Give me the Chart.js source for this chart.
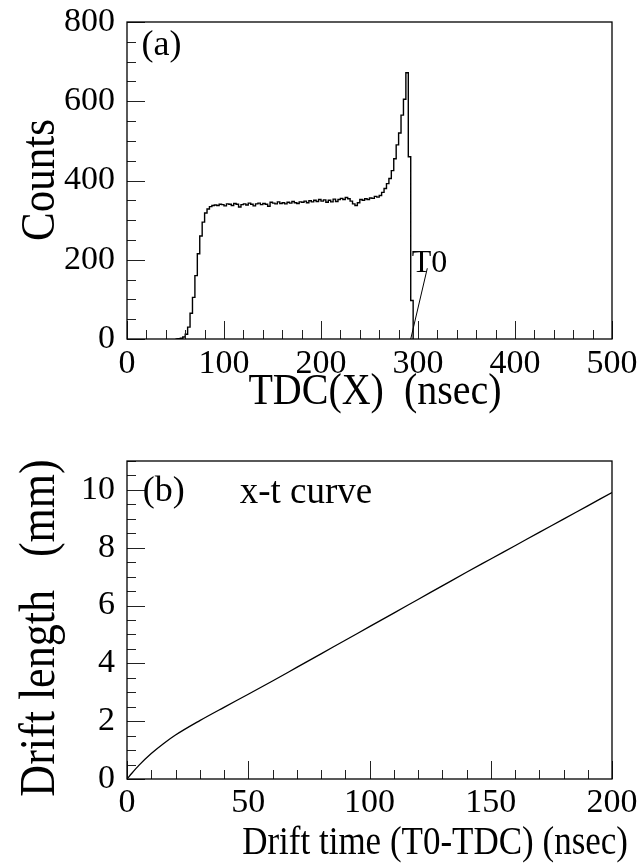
<!DOCTYPE html>
<html><head><meta charset="utf-8">
<script src="https://cdn.jsdelivr.net/npm/chart.js@4.4.1/dist/chart.umd.min.js"></script>
<style>
html,body{margin:0;padding:0;background:#fff;}
#wrap{position:relative;width:641px;height:865px;overflow:hidden;}
canvas{position:absolute;left:0;}
</style></head><body>
<div id="wrap">
<canvas id="ca" width="641" height="432" style="top:0"></canvas>
<canvas id="cb" width="641" height="433" style="top:432px"></canvas>
</div>
<script>
// ---------- Panel (a): TDC histogram ----------
const tdcBinLow = [50,52.5,55,57.5,60,62.5,65,67.5,70,72.5,75,77.5,80,82.5,85,87.5,
  90,92.5,95,97.5,100,102.5,105,107.5,110,112.5,115,117.5,120,122.5,125,127.5,
  130,132.5,135,137.5,140,142.5,145,147.5,150,152.5,155,157.5,160,162.5,165,167.5,
  170,172.5,175,177.5,180,182.5,185,187.5,190,192.5,195,197.5,200,202.5,205,207.5,
  210,212.5,215,217.5,220,222.5,225,227.5,230,232.5,235,237.5,240,242.5,245,247.5,
  250,252.5,255,257.5,260,262.5,265,267.5,270,272.5,275,277.5,280,282.5,285,287.5,
  290,292.5,295];
const tdcCounts = [0,1,2,5,12,30,65,105,160,215,260,295,318,328,334,337,
  338,337,340,339,336,341,340,337,342,340,333,339,341,338,343,340,
  336,341,343,339,342,340,335,345,343,341,346,342,344,341,345,343,
  347,344,342,346,345,348,344,349,346,350,347,352,348,351,345,350,
  346,353,347,352,355,352,357,354,348,341,337,344,352,350,354,352,
  356,355,360,358,362,370,380,392,405,425,455,490,520,565,605,672,
  460,97,0];
const tdcTicks = [0,100,200,300,400,500];
const countTicks = [0,200,400,600,800];

// ---------- Panel (b): x-t curve ----------
const driftTime = [0,2,5,10,15,20,30,40,50,60,70,80,90,100,110,120,130,140,150,160,170,180,190,200];
const driftLength = [0,0.2,0.48,0.88,1.22,1.52,2.02,2.48,2.93,3.39,3.86,4.33,4.8,5.27,5.74,6.21,6.68,7.15,7.61,8.07,8.53,8.99,9.45,9.91];
const timeTicks = [0,50,100,150,200];
const lengthTicks = [0,2,4,6,8,10];

const SERIF = '"Liberation Serif","Times New Roman",serif';

const frameTicks = {
  id: 'frameTicks',
  afterDatasetsDraw(chart, args, o) {
    const {ctx, chartArea: a, scales: {x, y}} = chart;
    ctx.save();
    ctx.strokeStyle = '#222';
    ctx.lineWidth = 1;
    const eps = 1e-6;
    for (let v = x.min; v <= x.max + eps; v += o.xMinor) {
      const px = Math.round(x.getPixelForValue(v)) + 0.5;
      const r = v / o.xMajor, major = Math.abs(r - Math.round(r)) < eps;
      const len = major ? o.majorLen : o.minorLen;
      ctx.beginPath(); ctx.moveTo(px, a.bottom); ctx.lineTo(px, a.bottom - len); ctx.stroke();
    }
    for (let v = y.min; v <= y.max + eps; v += o.yMinor) {
      const py = Math.round(y.getPixelForValue(v)) + 0.5;
      const r = v / o.yMajor, major = Math.abs(r - Math.round(r)) < eps;
      const len = major ? o.majorLen : o.minorLen;
      ctx.beginPath(); ctx.moveTo(a.left, py); ctx.lineTo(a.left + len, py); ctx.stroke();
    }
    ctx.strokeStyle = '#000';
    ctx.lineWidth = 1.3;
    ctx.strokeRect(a.left, a.top, a.right - a.left, a.bottom - a.top);
    // texts
    ctx.fillStyle = '#000';
    ctx.textBaseline = 'alphabetic';
    (o.texts || []).forEach(t => {
      ctx.font = t.size + 'px ' + SERIF;
      ctx.textAlign = t.align || 'left';
      ctx.fillText(t.text, x.getPixelForValue(t.x), y.getPixelForValue(t.y));
    });
    (o.lines || []).forEach(l => {
      ctx.lineWidth = 1;
      ctx.beginPath();
      ctx.moveTo(x.getPixelForValue(l[0]), y.getPixelForValue(l[1]));
      ctx.lineTo(x.getPixelForValue(l[2]), y.getPixelForValue(l[3]));
      ctx.stroke();
    });
    // axis titles
    (o.titles || []).forEach(t => {
      ctx.save();
      ctx.font = t.size + 'px ' + SERIF;
      ctx.textAlign = t.align;
      ctx.textBaseline = 'alphabetic';
      ctx.translate(t.px, t.py);
      if (t.rot) ctx.rotate(t.rot);
      ctx.scale(1, t.stretch || 1);
      ctx.fillText(t.text, 0, 0);
      ctx.restore();
    });
    ctx.restore();
  }
};

function fixBox(box) {
  return function(scale) {
    if (box.width !== undefined) scale.width = box.width;
    if (box.height !== undefined) scale.height = box.height;
    scale.paddingTop = 0; scale.paddingBottom = 0; scale.paddingLeft = 0; scale.paddingRight = 0;
  };
}

function makeChart(id, cfg) {
  return new Chart(document.getElementById(id), {
    type: 'line',
    data: { datasets: [cfg.dataset] },
    options: {
      responsive: false,
      animation: false,
      events: [],
      layout: { padding: cfg.padding },
      plugins: { legend: { display: false }, tooltip: { enabled: false }, frameTicks: cfg.deco },
      scales: {
        x: {
          type: 'linear', min: cfg.xMin, max: cfg.xMax,
          grid: { display: false, drawTicks: false }, border: { display: false },
          afterBuildTicks: s => { s.ticks = cfg.xTicks.map(v => ({ value: v })); },
          afterFit: fixBox({ height: cfg.xHeight }),
          ticks: { font: { family: SERIF, size: cfg.tickSize }, color: '#000', padding: cfg.xPad, maxRotation: 0, autoSkip: false }
        },
        y: {
          type: 'linear', min: cfg.yMin, max: cfg.yMax,
          grid: { display: false, drawTicks: false }, border: { display: false },
          afterBuildTicks: s => { s.ticks = cfg.yTicks.map(v => ({ value: v })); },
          afterFit: fixBox({ width: cfg.yWidth }),
          ticks: { font: { family: SERIF, size: cfg.tickSize }, color: '#000', padding: cfg.yPad }
        }
      }
    },
    plugins: [frameTicks]
  });
}

// Panel (a)
makeChart('ca', {
  dataset: {
    data: tdcBinLow.map((v, i) => ({ x: v, y: tdcCounts[i] })),
    stepped: 'before', borderColor: '#000', borderWidth: 1.4, pointRadius: 0, fill: false
  },
  padding: { left: 0, top: 22, right: 29, bottom: 0 },
  xMin: 0, xMax: 500, yMin: 0, yMax: 800,
  xTicks: tdcTicks, yTicks: countTicks,
  xHeight: 432 - 339, yWidth: 127,
  tickSize: 34, xPad: 5, yPad: 12,
  deco: {
    xMinor: 20, xMajor: 100, yMinor: 50, yMajor: 200, majorLen: 18, minorLen: 9,
    texts: [
      { text: '(a)', x: 15, y: 717, size: 36 },
      { text: 'T0', x: 293.5, y: 169, size: 32 }
    ],
    lines: [[309.6, 178.5, 292.5, 0]],
    titles: [
      { text: 'Counts', px: 54, py: 180, rot: -Math.PI / 2, align: 'center', size: 43, stretch: 1.15 },
      { text: 'TDC(X)  (nsec)', px: 375, py: 404, align: 'center', size: 40, stretch: 1.12 }
    ]
  }
});

// Panel (b)
makeChart('cb', {
  dataset: {
    data: driftTime.map((v, i) => ({ x: v, y: driftLength[i] })),
    borderColor: '#000', borderWidth: 1.3, pointRadius: 0, fill: false,
    cubicInterpolationMode: 'monotone'
  },
  padding: { left: 0, top: 29, right: 29, bottom: 0 },
  xMin: 0, xMax: 200, yMin: 0, yMax: 11,
  xTicks: timeTicks, yTicks: lengthTicks,
  xHeight: 433 - 347, yWidth: 127,
  tickSize: 34, xPad: 4, yPad: 12,
  deco: {
    xMinor: 10, xMajor: 50, yMinor: 0.5, yMajor: 2, majorLen: 18, minorLen: 9,
    texts: [
      { text: '(b)', x: 6.5, y: 9.6, size: 36 },
      { text: 'x-t curve', x: 46.5, y: 9.55, size: 37 }
    ],
    lines: [],
    titles: [
      { text: 'Drift length   (mm)', px: 54, py: 196, rot: -Math.PI / 2, align: 'center', size: 44, stretch: 1.15 },
      { text: 'Drift time (T0-TDC) (nsec)', px: 628, py: 422, align: 'right', size: 35, stretch: 1.12 }
    ]
  }
});
</script>
</body></html>
